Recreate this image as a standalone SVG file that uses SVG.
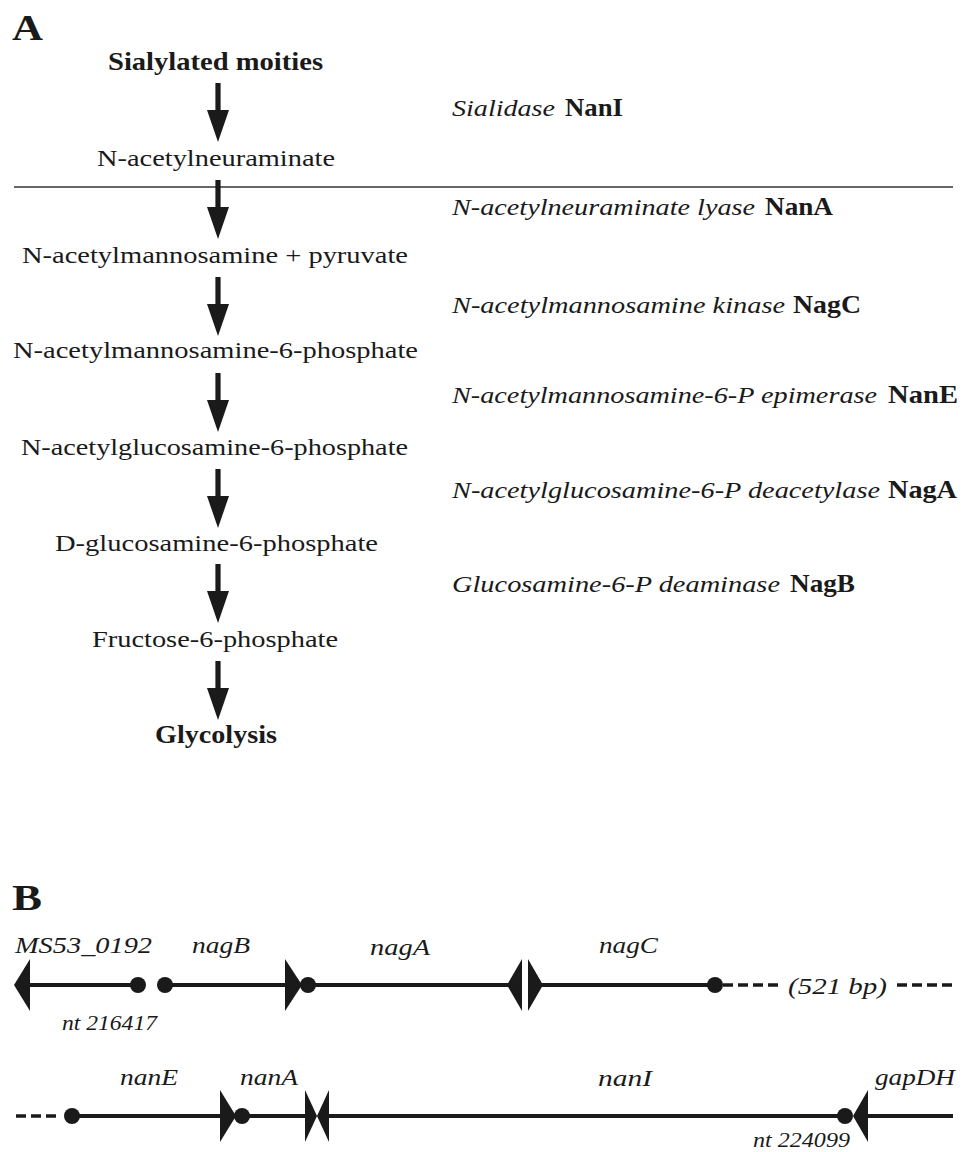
<svg xmlns="http://www.w3.org/2000/svg" width="966" height="1152" viewBox="0 0 966 1152">
<style>
text{font-family:"Liberation Serif","Times New Roman",serif;fill:#1a1a1a}
.n{font-size:24px}
.b{font-size:25px;font-weight:bold}
.i{font-size:24px;font-style:italic}
.s{font-size:20px;font-style:italic}
.p{font-size:36px;font-weight:bold}
.gl{stroke:#1a1a1a;stroke-width:4;fill:none}
.ds{stroke:#1a1a1a;stroke-width:3.5;fill:none;stroke-dasharray:10 5}
.hd{fill:#1a1a1a}
</style>
<defs>
<path id="arr" d="M-2.6,0 H2.6 V27 H11 L0,59 L-11,27 H-2.6 Z" fill="#1a1a1a"/>
</defs>
<rect width="966" height="1152" fill="#fff"/>
<text class="p" x="12" y="40" textLength="31" lengthAdjust="spacingAndGlyphs">A</text>
<text class="p" x="12" y="910" textLength="30" lengthAdjust="spacingAndGlyphs">B</text>
<line x1="14" y1="187" x2="953" y2="187" stroke="#333" stroke-width="1.3"/>
<g id="nodes-A">
<g id="n-sialylated"><text class="b" x="108" y="70" textLength="215" lengthAdjust="spacingAndGlyphs">Sialylated moities</text></g>
<g id="n-neu5ac"><text class="n" x="97" y="166" textLength="238" lengthAdjust="spacingAndGlyphs">N-acetylneuraminate</text></g>
<g id="n-mannac"><text class="n" x="22" y="263" textLength="386" lengthAdjust="spacingAndGlyphs">N-acetylmannosamine + pyruvate</text></g>
<g id="n-mannac6p"><text class="n" x="13" y="358" textLength="405" lengthAdjust="spacingAndGlyphs">N-acetylmannosamine-6-phosphate</text></g>
<g id="n-glcnac6p"><text class="n" x="21" y="455" textLength="387" lengthAdjust="spacingAndGlyphs">N-acetylglucosamine-6-phosphate</text></g>
<g id="n-glcn6p"><text class="n" x="55" y="551" textLength="323" lengthAdjust="spacingAndGlyphs">D-glucosamine-6-phosphate</text></g>
<g id="n-f6p"><text class="n" x="92" y="647" textLength="246" lengthAdjust="spacingAndGlyphs">Fructose-6-phosphate</text></g>
<g id="n-glycolysis"><text class="b" x="155" y="743" textLength="122" lengthAdjust="spacingAndGlyphs">Glycolysis</text></g>
</g>
<g id="connectors-A">
<use href="#arr" x="218" y="83"/>
<use href="#arr" x="218" y="180"/>
<use href="#arr" x="218" y="277"/>
<use href="#arr" x="218" y="373"/>
<use href="#arr" x="218" y="469"/>
<use href="#arr" x="218" y="564"/>
<use href="#arr" x="218" y="661"/>
</g>
<g id="enzyme-labels">
<text class="i" x="452" y="116" textLength="103" lengthAdjust="spacingAndGlyphs">Sialidase</text><text class="b" x="565" y="116" textLength="58" lengthAdjust="spacingAndGlyphs">NanI</text>
<text class="i" x="452" y="215" textLength="303" lengthAdjust="spacingAndGlyphs">N-acetylneuraminate lyase</text><text class="b" x="765" y="215" textLength="68" lengthAdjust="spacingAndGlyphs">NanA</text>
<text class="i" x="452" y="313" textLength="333" lengthAdjust="spacingAndGlyphs">N-acetylmannosamine kinase</text><text class="b" x="793" y="313" textLength="68" lengthAdjust="spacingAndGlyphs">NagC</text>
<text class="i" x="452" y="403" textLength="425" lengthAdjust="spacingAndGlyphs">N-acetylmannosamine-6-P epimerase</text><text class="b" x="888" y="403" textLength="70" lengthAdjust="spacingAndGlyphs">NanE</text>
<text class="i" x="452" y="498" textLength="428" lengthAdjust="spacingAndGlyphs">N-acetylglucosamine-6-P deacetylase</text><text class="b" x="888" y="498" textLength="69" lengthAdjust="spacingAndGlyphs">NagA</text>
<text class="i" x="452" y="592" textLength="328" lengthAdjust="spacingAndGlyphs">Glucosamine-6-P deaminase</text><text class="b" x="790" y="592" textLength="65" lengthAdjust="spacingAndGlyphs">NagB</text>
</g>
<g id="genes-row1">
<g id="g-ms53"><line class="gl" x1="28" y1="985" x2="138" y2="985"/><polygon class="hd" points="14,985 30,959 30,1011"/><circle class="hd" cx="138" cy="985" r="8"/>
<text class="i" x="15" y="953" textLength="137" lengthAdjust="spacingAndGlyphs">MS53_0192</text>
<text class="s" x="62" y="1030" textLength="95" lengthAdjust="spacingAndGlyphs">nt 216417</text></g>
<g id="g-nagB"><circle class="hd" cx="165" cy="985" r="8"/><line class="gl" x1="165" y1="985" x2="290" y2="985"/><polygon class="hd" points="285,959 302,985 285,1011"/>
<text class="i" x="192" y="953" textLength="58" lengthAdjust="spacingAndGlyphs">nagB</text></g>
<g id="g-nagA"><circle class="hd" cx="308" cy="985" r="8"/><line class="gl" x1="308" y1="985" x2="512" y2="985"/><polygon class="hd" points="507,985 522,959 522,1011"/>
<text class="i" x="370" y="955" textLength="60" lengthAdjust="spacingAndGlyphs">nagA</text></g>
<g id="g-nagC"><polygon class="hd" points="528,959 543,985 528,1011"/><line class="gl" x1="540" y1="985" x2="715" y2="985"/><circle class="hd" cx="715" cy="985" r="8"/>
<text class="i" x="599" y="953" textLength="59" lengthAdjust="spacingAndGlyphs">nagC</text></g>
<g id="gap1"><line class="ds" x1="723" y1="985" x2="782" y2="985"/><line class="ds" x1="897" y1="985" x2="955" y2="985"/>
<text class="i" x="788" y="994" textLength="99" lengthAdjust="spacingAndGlyphs">(521 bp)</text></g>
</g>
<g id="genes-row2">
<g id="gap2"><line class="ds" x1="16" y1="1116" x2="58" y2="1116"/></g>
<g id="g-nanE"><circle class="hd" cx="72" cy="1116" r="8"/><line class="gl" x1="72" y1="1116" x2="224" y2="1116"/><polygon class="hd" points="220,1090 236,1116 220,1142"/>
<text class="i" x="120" y="1085" textLength="58" lengthAdjust="spacingAndGlyphs">nanE</text></g>
<g id="g-nanA"><circle class="hd" cx="242" cy="1116" r="8"/><line class="gl" x1="242" y1="1116" x2="308" y2="1116"/><polygon class="hd" points="305,1090 317,1116 305,1142"/>
<text class="i" x="240" y="1085" textLength="58" lengthAdjust="spacingAndGlyphs">nanA</text></g>
<g id="g-nanI"><polygon class="hd" points="317,1116 329,1090 329,1142"/><line class="gl" x1="326" y1="1116" x2="845" y2="1116"/><circle class="hd" cx="845" cy="1116" r="8"/>
<text class="i" x="598" y="1086" textLength="54" lengthAdjust="spacingAndGlyphs">nanI</text>
<text class="s" x="753" y="1147" textLength="97" lengthAdjust="spacingAndGlyphs">nt 224099</text></g>
<g id="g-gapDH"><polygon class="hd" points="853,1116 868,1090 868,1142"/><line class="gl" x1="865" y1="1116" x2="953" y2="1116"/>
<text class="i" x="875" y="1085" textLength="80" lengthAdjust="spacingAndGlyphs">gapDH</text></g>
</g>
</svg>
